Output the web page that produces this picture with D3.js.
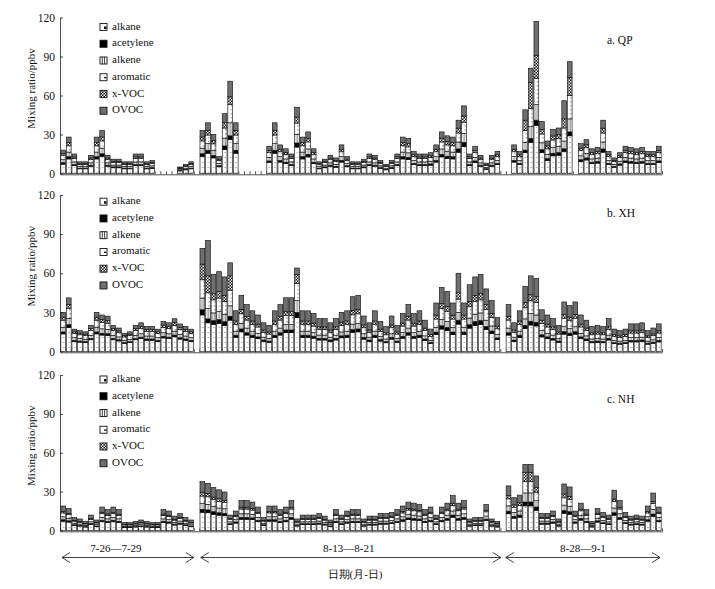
<!DOCTYPE html>
<html><head><meta charset="utf-8">
<script src="https://cdn.jsdelivr.net/npm/d3@7/dist/d3.min.js"></script>
<style>
body{margin:0;background:#fff}
svg{display:block}
text{font-family:"Liberation Serif","Times New Roman",serif;fill:#111}
</style>
</head><body>
<svg id="chart" width="715" height="589"></svg>
<script>
const _ = null;
// ---------- categories ----------
const days = ["7-26","7-27","7-28","7-29","8-13","8-14","8-15","8-16","8-17","8-18","8-19","8-20","8-21","8-28","8-29","8-30","8-31","9-1"];
const samplesPerDay = [1,2,3,4,5,6];
const categories = days.flatMap(d => samplesPerDay.map(s => d + "#" + s));
const seriesNames = ["alkane","acetylene","alkene","aromatic","x-VOC","OVOC"];
const yTicks = [0,30,60,90,120];
const periodLabels = ["7-26\u20147-29","8-13\u20148-21","8-28\u20149-1"];
const periodSpans = [[0,24],[24,78],[78,108]];
const xTitle = "日期(月-日)";
const yTitle = "Mixing ratio/ppbv";
const panelNames = ["a. QP","b. XH","c. NH"];

// ---------- a. QP ----------
const qpAlkane = [7.2,11.2,6,3.6,3.6,5.6,11.2,13.2,5.6,4.4,4.4,3.6,3.6,6,6,3.6,4,_,_,_,_,2,2.8,3.6,_,13.2,15.6,12,5.2,18.4,26,15.6,_,_,_,_,_,8.4,15.6,8.8,7.6,6,20.4,11.2,12.8,7.6,3.6,4.4,5.6,4.8,8.8,5.2,3.6,3.6,4.4,6,5.6,4,2.8,4,6,11.2,10.8,6.8,6,6,6.4,8.8,12.8,11.6,11.2,16.4,20.8,6,8.4,5.6,3.2,5.6,6.8,_,_,8.8,6.8,16,24,37,16,10,13.6,14,17,29,_,9.2,10.4,7.6,8,16.4,6.8,4.8,6.4,8.4,8,7.6,8,6.8,6.8,8.4];
const qpAcetylene = [1.1,1.7,.9,.5,.5,.8,1.7,2,.8,.7,.7,.5,.5,.9,.9,.5,.6,_,_,_,_,.3,.4,.5,_,2,2.3,1.8,.8,2.8,3,2.3,_,_,_,_,_,1.3,2.3,1.3,1.1,.9,3.1,1.7,1.9,1.1,.5,.7,.8,.7,1.3,.8,.5,.5,.7,.9,.8,.6,.4,.6,.9,1.7,1.6,1,.9,.9,1,1.3,1.9,1.7,1.7,2.5,3.1,.9,1.3,.8,.5,.8,1,_,_,1.3,1,2,3,4,2.4,1.5,2,2.1,2,3,_,1.4,1.6,1.1,1.2,2.5,1,.7,1,1.3,1.2,1.1,1.2,1,1,1.3];
const qpAlkene = [2.3,3.6,2,1.2,1.2,1.8,3.6,4.3,1.8,1.4,1.4,1.2,1.2,2,2,1.2,1.3,_,_,_,_,.7,.9,1.2,_,4.3,5.1,3.9,1.7,6,10,5.1,_,_,_,_,_,2.7,5.1,2.9,2.5,2,6.6,3.6,4.2,2.5,1.2,1.4,1.8,1.6,2.9,1.7,1.2,1.2,1.4,2,1.8,1.3,.9,1.3,2,3.6,3.5,2.2,2,2,2.1,2.9,4.2,3.8,3.6,5.3,6.8,2,2.7,1.8,1,1.8,2.2,_,_,2.9,2.2,6,9,12,5.2,3.3,4.4,4.6,6,10,_,3,3.4,2.5,2.6,5.3,2.2,1.6,2.1,2.7,2.6,2.5,2.6,2.2,2.2,2.7];
const qpAromatic = [3.1,4.8,2.5,1.5,1.5,2.4,4.8,5.6,2.4,1.9,1.9,1.5,1.5,2.5,2.5,1.5,1.7,_,_,_,_,.9,1.2,1.5,_,5.6,6.6,5.1,2.2,7.8,14,6.6,_,_,_,_,_,3.6,6.6,3.7,3.2,2.5,8.7,4.8,5.4,3.2,1.5,1.9,2.4,2,3.7,2.2,1.5,1.5,1.9,2.5,2.4,1.7,1.2,1.7,2.5,4.8,4.6,2.9,2.5,2.5,2.7,3.7,5.4,4.9,4.8,7,8.8,2.5,3.6,2.4,1.4,2.4,2.9,_,_,3.7,2.9,9,14,20,6.8,4.2,5.8,6,10,18,_,3.9,4.4,3.2,3.4,7,2.9,2,2.7,3.6,3.4,3.2,3.4,2.9,2.9,3.6];
const qpXvoc = [1.6,2.5,1.4,.8,.8,1.3,2.5,3,1.3,1,1,.8,.8,1.4,1.4,.8,.9,_,_,_,_,.4,.6,.8,_,3,3.5,2.7,1.2,4.1,6,3.5,_,_,_,_,_,1.9,3.5,2,1.7,1.4,4.6,2.5,2.9,1.7,.8,1,1.3,1.1,2,1.2,.8,.8,1,1.4,1.3,.9,.6,.9,1.4,2.5,2.4,1.5,1.4,1.4,1.4,2,2.9,2.6,2.5,3.7,4.7,1.4,1.9,1.3,.7,1.3,1.5,_,_,2,1.5,8,20,18,3.6,2.3,3.1,3.1,7,14,_,2.1,2.3,1.7,1.8,3.7,1.5,1.1,1.4,1.9,1.8,1.7,1.8,1.5,1.5,1.9];
const qpOvoc = [2.7,4.2,2.2,1.4,1.4,2.1,4.2,4.9,2.1,1.6,1.6,1.4,1.4,2.2,2.2,1.4,1.5,_,_,_,_,.7,1.1,1.4,_,4.9,5.9,4.5,1.9,6.9,12,5.9,_,_,_,_,_,3.1,5.9,3.3,2.9,2.2,7.6,4.2,4.8,2.9,1.4,1.6,2.1,1.8,3.3,1.9,1.4,1.4,1.6,2.2,2.1,1.5,1.1,1.5,2.2,4.2,4.1,2.6,2.2,2.2,2.4,3.3,4.8,4.4,4.2,6.1,7.8,2.2,3.1,2.1,1.2,2.1,2.6,_,_,3.3,2.6,8,11,26,6,3.7,5.1,5.2,14,12,_,3.4,3.9,2.9,3,6.1,2.6,1.8,2.4,3.1,3,2.9,3,2.6,2.6,3.1];

// ---------- b. XH ----------
const xhAlkane = [13.5,18.5,7.7,7.2,6.8,9,13.5,12.6,12.2,9,8.1,6.3,6.8,9,9.9,8.6,8.6,7.7,10.4,9.9,11.3,9.5,8.6,7.7,_,28,22,20.7,21.4,20,24,10.9,15.1,12.6,10.9,9.8,7.7,7,10.9,12.6,14.4,14.4,26,10.9,10.9,10.2,8.8,8.8,7.7,8.8,10.5,10.9,14.7,15.1,9.5,7.7,10.9,8,6.7,9.5,7,10.2,12.6,10.2,10.9,8.4,6,13,17.2,16.1,13,21,13,17.9,20,20.7,16.8,13.7,9.1,_,12.6,7.7,10.9,17.5,20.3,19.6,11.2,9.8,8.8,7,13.3,12.3,13.3,9.8,8.4,6.7,7,6.7,8.8,6,5.6,6,7.4,7.4,7.7,5.6,6.3,7.4];
const xhAcetylene = [1.5,2.1,.9,.8,.8,1,1.5,1.4,1.4,1,.9,.7,.8,1,1.1,1,1,.9,1.2,1.1,1.3,1.1,1,.9,_,4,3,3,3.1,2.9,3,1.6,2.2,1.8,1.6,1.4,1.1,1,1.6,1.8,2.1,2.1,4,1.6,1.6,1.5,1.3,1.3,1.1,1.3,1.5,1.6,2.1,2.2,1.4,1.1,1.6,1.2,1,1.4,1,1.5,1.8,1.5,1.6,1.2,.9,1.9,2.5,2.3,1.9,3,1.9,2.6,2.9,3,2.4,2,1.3,_,1.8,1.1,1.6,2.5,2.9,2.8,1.6,1.4,1.3,1,1.9,1.8,1.9,1.4,1.2,1,1,1,1.3,.9,.8,.9,1.1,1.1,1.1,.8,.9,1.1];
const xhAlkene = [3.6,4.9,2,1.9,1.8,2.4,3.6,3.4,3.2,2.4,2.2,1.7,1.8,2.4,2.6,2.3,2.3,2,2.8,2.6,3,2.5,2.3,2,_,9,8,5.9,6.1,5.7,8,3.1,4.3,3.6,3.1,2.8,2.2,2,3.1,3.6,4.1,4.1,9,3.1,3.1,2.9,2.5,2.5,2.2,2.5,3,3.1,4.2,4.3,2.7,2.2,3.1,2.3,1.9,2.7,2,2.9,3.6,2.9,3.1,2.4,1.7,3.7,4.9,4.6,3.7,6,3.7,5.1,5.7,5.9,4.8,3.9,2.6,_,3.6,2.2,3.1,5,5.8,5.6,3.2,2.8,2.5,2,3.8,3.5,3.8,2.8,2.4,1.9,2,1.9,2.5,1.7,1.6,1.7,2.1,2.1,2.2,1.6,1.8,2.1];
const xhAromatic = [5.4,7.4,3.1,2.9,2.7,3.6,5.4,5,4.9,3.6,3.2,2.5,2.7,3.6,4,3.4,3.4,3.1,4.1,4,4.5,3.8,3.4,3.1,_,14,12,10,10.4,9.7,12,5.3,7.3,6.1,5.3,4.8,3.7,3.4,5.3,6.1,7,7,13,5.3,5.3,4.9,4.3,4.3,3.7,4.3,5.1,5.3,7.1,7.3,4.6,3.7,5.3,3.9,3.2,4.6,3.4,4.9,6.1,4.9,5.3,4.1,2.9,6.3,8.3,7.8,6.3,10.2,6.3,8.7,9.7,10,8.2,6.6,4.4,_,6.1,3.7,5.3,8.5,9.9,9.5,5.4,4.8,4.3,3.4,6.5,6,6.5,4.8,4.1,3.2,3.4,3.2,4.3,2.9,2.7,2.9,3.6,3.6,3.7,2.7,3.1,3.6];
const xhXvoc = [2.4,3.3,1.4,1.3,1.2,1.6,2.4,2.2,2.2,1.6,1.4,1.1,1.2,1.6,1.8,1.5,1.5,1.4,1.8,1.8,2,1.7,1.5,1.4,_,12,13,4.7,4.9,4.6,11,2.5,3.4,2.9,2.5,2.2,1.8,1.6,2.5,2.9,3.3,3.3,7,2.5,2.5,2.3,2,2,1.8,2,2.4,2.5,3.4,3.4,2.2,1.8,2.5,1.8,1.5,2.2,1.6,2.3,2.9,2.3,2.5,1.9,1.4,3,3.9,3.7,3,4.8,3,4.1,4.6,4.7,3.8,3.1,2.1,_,2.9,1.8,2.5,4,4.6,4.5,2.6,2.2,2,1.6,3,2.8,3,2.2,1.9,1.5,1.6,1.5,2,1.4,1.3,1.4,1.7,1.7,1.8,1.3,1.4,1.7];
const xhOvoc = [3.6,4.9,2,1.9,1.8,2.4,3.6,3.4,3.2,2.4,2.2,1.7,1.8,2.4,2.6,2.3,2.3,2,2.8,2.6,3,2.5,2.3,2,_,12,27,14.8,15.3,14.3,10,7.8,10.8,9,7.8,7,5.5,5,7.8,9,10.3,10.3,5,7.8,7.8,7.3,6.3,6.3,5.5,6.3,7.5,7.8,10.5,10.8,6.8,5.5,7.8,5.8,4.8,6.8,5,7.3,9,7.3,7.8,6,4.3,9.3,12.3,11.5,9.3,15,9.3,12.8,14.3,14.8,12,9.8,6.5,_,9,5.5,7.8,12.5,14.5,14,8,7,6.3,5,9.5,8.8,9.5,7,6,4.8,5,4.8,6.3,4.3,4,4.3,5.3,5.3,5.5,4,4.5,5.3];

// ---------- c. NH ----------
const nhAlkane = [7.2,6.5,3.8,3.4,2.7,4.6,3,6.8,6.1,6.8,6.1,2.3,2.3,2.7,3,2.7,2.3,2.3,6.1,5.7,4.2,4.9,3.8,3,_,14.1,13.7,12.5,11.8,11.4,4.6,5.7,8.7,8.7,8.4,6.8,3.8,7.2,7.2,6.1,6.8,8.7,3.4,4.6,4.6,4.6,4.9,4.2,3,6.1,4.6,5.7,6.1,6.1,3.4,4.2,4.2,4.9,4.9,5.3,6.1,7.2,8.4,8,7.6,6.1,6.8,4.6,6.8,8,10.3,8,8.7,3.4,3.8,3.8,7.6,3.4,2.7,_,12.9,9.5,10.3,19,19,15.6,4.9,4.9,5.7,3.4,13.3,12.5,5.7,8,6.1,2.7,6.5,5.3,4.6,11.8,8.7,5.3,4.2,4.6,4.2,7.2,11,6.8];
const nhAcetylene = [1.1,1,.6,.5,.4,.7,.5,1.1,1,1.1,1,.4,.4,.4,.5,.4,.4,.4,1,.9,.7,.8,.6,.5,_,2.2,2.2,2,1.9,1.8,.7,.9,1.4,1.4,1.3,1.1,.6,1.1,1.1,1,1.1,1.4,.5,.7,.7,.7,.8,.7,.5,1,.7,.9,1,1,.5,.7,.7,.8,.8,.8,1,1.1,1.3,1.3,1.2,1,1.1,.7,1.1,1.3,1.6,1.3,1.4,.5,.6,.6,1.2,.5,.4,_,2,1.5,1.6,3,3,2.5,.8,.8,.9,.5,2.1,2,.9,1.3,1,.4,1,.8,.7,1.9,1.4,.8,.7,.7,.7,1.1,1.7,1.1];
const nhAlkene = [2.3,2,1.2,1.1,.8,1.4,1,2.2,1.9,2.2,1.9,.7,.7,.8,1,.8,.7,.7,1.9,1.8,1.3,1.6,1.2,1,_,4.4,4.3,4,3.7,3.6,1.4,1.8,2.8,2.8,2.6,2.2,1.2,2.3,2.3,1.9,2.2,2.8,1.1,1.4,1.4,1.4,1.6,1.3,1,1.9,1.4,1.8,1.9,1.9,1.1,1.3,1.3,1.6,1.6,1.7,1.9,2.3,2.6,2.5,2.4,1.9,2.2,1.4,2.2,2.5,3.2,2.5,2.8,1.1,1.2,1.2,2.4,1.1,.8,_,4.1,3,3.2,7,7,4.9,1.6,1.6,1.8,1.1,4.2,4,1.8,2.5,1.9,.8,2,1.7,1.4,3.7,2.8,1.7,1.3,1.4,1.3,2.3,3.5,2.2];
const nhAromatic = [3,2.7,1.6,1.4,1.1,1.9,1.3,2.9,2.6,2.9,2.6,1,1,1.1,1.3,1.1,1,1,2.6,2.4,1.8,2.1,1.6,1.3,_,5.9,5.8,5.3,5,4.8,1.9,2.4,3.7,3.7,3.5,2.9,1.6,3,3,2.6,2.9,3.7,1.4,1.9,1.9,1.9,2.1,1.8,1.3,2.6,1.9,2.4,2.6,2.6,1.4,1.8,1.8,2.1,2.1,2.2,2.6,3,3.5,3.4,3.2,2.6,2.9,1.9,2.9,3.4,4.3,3.4,3.7,1.4,1.6,1.6,3.2,1.4,1.1,_,5.4,4,4.3,9,9,6.6,2.1,2.1,2.4,1.4,5.6,5.3,2.4,3.4,2.6,1.1,2.7,2.2,1.9,5,3.7,2.2,1.8,1.9,1.8,3,4.6,2.9];
const nhXvoc = [1.1,1,.6,.5,.4,.7,.5,1.1,1,1.1,1,.4,.4,.4,.5,.4,.4,.4,1,.9,.7,.8,.6,.5,_,3,2.5,2,2.2,1.5,.7,.9,1.4,1.4,1.3,1.1,.6,1.1,1.1,1,1.1,1.4,.5,.7,.7,.7,.8,.7,.5,1,.7,.9,1,1,.5,.7,.7,.8,.8,.8,1,1.1,1.3,1.3,1.2,1,1.1,.7,1.1,1.3,1.6,1.3,1.4,.5,.6,.6,1.2,.5,.4,_,2.5,1.8,2,7,7,3.5,.8,.8,.9,.5,3,2.5,.9,1.3,1,.4,1,.8,.7,1.9,1.4,.8,.7,.7,.7,1.1,1.7,1.1];
const nhOvoc = [4.2,3.7,2.2,2,1.5,2.6,1.8,4,3.5,4,3.5,1.3,1.3,1.5,1.8,1.5,1.3,1.3,3.5,3.3,2.4,2.9,2.2,1.8,_,8.1,7.9,7.3,6.8,6.6,2.6,3.3,5.1,5.1,4.8,4,2.2,4.2,4.2,3.5,4,5.1,2,2.6,2.6,2.6,2.9,2.4,1.8,3.5,2.6,3.3,3.5,3.5,2,2.4,2.4,2.9,2.9,3.1,3.5,4.2,4.8,4.6,4.4,3.5,4,2.6,4,4.6,5.9,4.6,5.1,2,2.2,2.2,4.4,2,1.5,_,7.5,5.5,5.9,6,6,9,2.9,2.9,3.3,2,7.7,7.3,3.3,4.6,3.5,1.5,3.7,3.1,2.6,6.8,5.1,3.1,2.4,2.6,2.4,4.2,6.4,4];

const panelSeries = [
  [qpAlkane,qpAcetylene,qpAlkene,qpAromatic,qpXvoc,qpOvoc],
  [xhAlkane,xhAcetylene,xhAlkene,xhAromatic,xhXvoc,xhOvoc],
  [nhAlkane,nhAcetylene,nhAlkene,nhAromatic,nhXvoc,nhOvoc]
];

// ---------- layout ----------
const plotLeft = 60, plotRight = 662;
const panelLayout = [
  {bottom:173.5, top:17.5, legendY:27,  labelY:44},
  {bottom:351.5, top:195,  legendY:201.7, labelY:217},
  {bottom:530.5, top:375,  legendY:379.5, labelY:403}
];
const legendStep = 16.75;
const svg = d3.select("#chart");

const x = d3.scaleBand().domain(categories).range([plotLeft, plotRight]).padding(0.15);
const xi = d3.scaleLinear().domain([0, categories.length]).range([plotLeft, plotRight]);
const bw = x.bandwidth(), step = x.step();
const x0 = x(categories[0]);

// patterns
const defs = svg.append("defs");
function pat(id, w, h, tx) {
  const p = defs.append("pattern").attr("id", id).attr("patternUnits","userSpaceOnUse")
    .attr("width", w).attr("height", h);
  if (tx) p.attr("patternTransform", `translate(${tx},0)`);
  return p;
}
let p = pat("p-alkane", step, 5, x0);
p.append("rect").attr("width", step).attr("height", 5).attr("fill", "#fff");
p.append("rect").attr("x", bw*0.5).attr("y", 2).attr("width", 0.8).attr("height", 0.8).attr("fill", "#333");
p = pat("p-alkene", step, 2, x0);
p.append("rect").attr("width", step).attr("height", 2).attr("fill", "#fff");
p.append("rect").attr("x", bw*0.33).attr("y", 0).attr("width", 0.5).attr("height", 2).attr("fill", "#444");
p.append("rect").attr("x", bw*0.66).attr("y", 0).attr("width", 0.5).attr("height", 2).attr("fill", "#444");
p = pat("p-aromatic", step, 4, x0);
p.append("rect").attr("width", step).attr("height", 4).attr("fill", "#fff");
p.append("rect").attr("x", bw*0.62).attr("y", 1.5).attr("width", 1.2).attr("height", 0.8).attr("fill", "#333");
p = pat("p-xvoc", 3, 3);
p.append("rect").attr("width", 3).attr("height", 3).attr("fill", "#111");
p.append("rect").attr("width", 1.5).attr("height", 1.5).attr("fill", "#fff");
p.append("rect").attr("x", 1.5).attr("y", 1.5).attr("width", 1.5).attr("height", 1.5).attr("fill", "#fff");

const fills = {"alkane":"url(#p-alkane)","acetylene":"#000","alkene":"url(#p-alkene)",
  "aromatic":"url(#p-aromatic)","x-VOC":"url(#p-xvoc)","OVOC":"#6f6f6f"};

const stack = d3.stack().keys(seriesNames).value((d, k) => d[k] == null ? 0 : d[k]);

panelLayout.forEach((L, pi) => {
  const g = svg.append("g");
  const y = d3.scaleLinear().domain([0, 120]).range([L.bottom, L.top]);
  const ser = panelSeries[pi];
  const rows = categories.map((c, i) => {
    const r = {cat: c, has: ser[0][i] != null};
    seriesNames.forEach((k, j) => r[k] = ser[j][i]);
    return r;
  });
  const stacked = stack(rows);

  g.append("g").attr("transform", `translate(0,${L.bottom + 0.8})`)
    .call(d3.axisBottom(xi).tickValues(d3.range(0, categories.length + 1)).tickSize(-3).tickSizeOuter(0).tickFormat(""))
    .call(s => s.selectAll("line,path").attr("stroke", "#222").attr("stroke-width", 0.8));

  stacked.forEach(layer => {
    g.append("g").selectAll("rect").data(layer.filter(d => d.data.has)).join("rect")
      .attr("x", d => x(d.data.cat))
      .attr("width", bw)
      .attr("y", d => y(d[1]))
      .attr("height", d => Math.max(0, y(d[0]) - y(d[1])))
      .attr("fill", fills[layer.key])
      .attr("stroke", "#111").attr("stroke-width", 0.65);
  });

  g.append("g").attr("transform", `translate(${plotLeft},0)`)
    .call(d3.axisLeft(y).tickValues(yTicks).tickSize(-3).tickSizeOuter(0).tickPadding(5))
    .call(s => s.selectAll("line,path").attr("stroke", "#222").attr("stroke-width", 0.8))
    .call(s => s.selectAll("text").attr("font-size", 11.5).attr("font-family", "Liberation Serif, serif").attr("fill", "#111"));

  g.append("text").attr("transform", `translate(32,${(L.bottom + L.top) / 2 - 7}) rotate(-90)`)
    .attr("text-anchor", "middle").attr("dominant-baseline", "middle")
    .attr("font-size", 11).text(yTitle);

  g.append("text").attr("x", 607).attr("y", L.labelY).attr("font-size", 11.5).text(panelNames[pi]);

  const lg = g.append("g");
  seriesNames.forEach((k, j) => {
    const cy = L.legendY + j * legendStep;
    const ix = 100, iy = cy - 3.5, s = 7;
    let fill = "#fff";
    if (k === "acetylene") fill = "#000";
    if (k === "x-VOC") fill = "url(#p-xvoc)";
    if (k === "OVOC") fill = "#6f6f6f";
    lg.append("rect").attr("x", ix).attr("y", iy).attr("width", s).attr("height", s)
      .attr("fill", fill).attr("stroke", "#111").attr("stroke-width", 0.9);
    if (k === "alkane") lg.append("rect").attr("x", ix + 4).attr("y", iy + 3).attr("width", 2.5).attr("height", 2.5).attr("fill", "#111");
    if (k === "aromatic") lg.append("rect").attr("x", ix + 4).attr("y", iy + 3.2).attr("width", 2.5).attr("height", 1.3).attr("fill", "#111");
    if (k === "alkene") [2.3, 4.6].forEach(dx => lg.append("line").attr("x1", ix + dx).attr("x2", ix + dx)
      .attr("y1", iy).attr("y2", iy + s).attr("stroke", "#111").attr("stroke-width", 0.8));
    lg.append("text").attr("x", 112).attr("y", cy).attr("dominant-baseline", "middle")
      .attr("font-size", 11).text(k);
  });
});

// period arrows and labels
const arrowY = 557.5;
const arrowInsets = [[2, 0], [7, 6], [11, -2]];
const labelShift = [-12, -2, 0];
periodSpans.forEach((sp, i) => {
  const a = xi(sp[0]) + arrowInsets[i][0], b = xi(sp[1]) + arrowInsets[i][1];
  const g = svg.append("g").attr("stroke", "#111").attr("stroke-width", 0.8).attr("fill", "none");
  g.append("line").attr("x1", a).attr("x2", b).attr("y1", arrowY).attr("y2", arrowY);
  g.append("path").attr("d", `M${a + 8},${arrowY - 5}L${a},${arrowY}L${a + 8},${arrowY + 5}`);
  g.append("path").attr("d", `M${b - 8},${arrowY - 5}L${b},${arrowY}L${b - 8},${arrowY + 5}`);
  svg.append("text").attr("x", (a + b) / 2 + labelShift[i]).attr("y", 552)
    .attr("text-anchor", "middle").attr("font-size", 11).text(periodLabels[i]);
});
svg.append("text").attr("x", 355).attr("y", 578).attr("text-anchor", "middle")
  .attr("font-size", 11).attr("font-family", "Noto Sans CJK SC, sans-serif").text(xTitle);
</script>
</body></html>
